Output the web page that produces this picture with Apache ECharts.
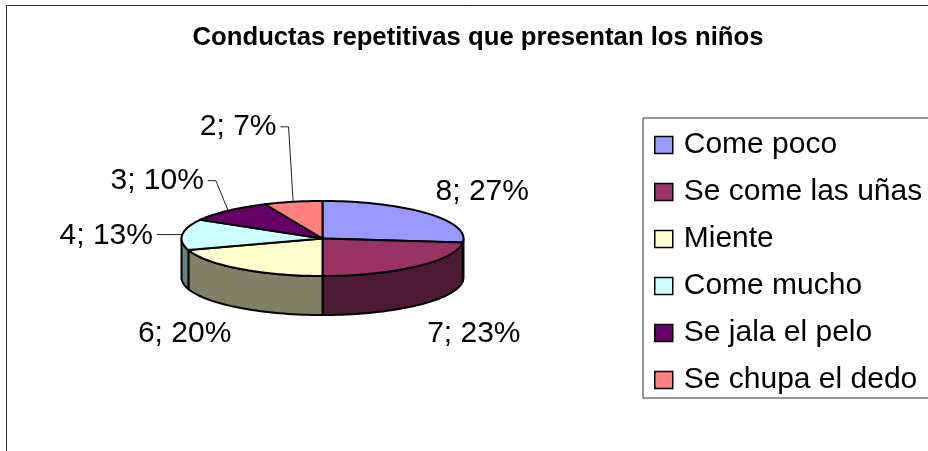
<!DOCTYPE html>
<html><head><meta charset="utf-8">
<style>html,body{margin:0;padding:0;background:#fff;overflow:hidden}#c{width:928px;height:451px}</style>
<script src="https://cdn.jsdelivr.net/npm/echarts@6/dist/echarts.min.js"></script>
</head><body><div id="c"></div>
<script>
const chartTitle = 'Conductas repetitivas que presentan los niños';
const categories = ['Come poco','Se come las uñas','Miente','Come mucho','Se jala el pelo','Se chupa el dedo'];
const values = [8,7,6,4,3,2];
const topColors = ['#9999FF','#993366','#FFFFCC','#CCFFFF','#660066','#FF8080'];
const wallColors = ['#4D4D80','#4D1A33','#808066','#668080','#330033','#804040'];
// label centre, relative to the rim point at each slice's mid-angle
const labelOffsets = [[55,-22],[57,28],[-55,26],[-76,1],[-71,-30],[-55,-75]];
const leaderFlags = [false,false,false,true,true,true];

const FONT = '"Liberation Sans", Arial, sans-serif';
const LABEL_SIZE = 30;
const CX = 322.5, CY = 238.5, RX = 141, RY = 37.5, DEPTH = 39;
const total = values.reduce((a,b)=>a+b,0);
const rim = (deg,dy=0)=>{const r=deg*Math.PI/180;return [CX+RX*Math.sin(r),CY-RY*Math.cos(r)+dy];};
const arcPts = (a,b,dy=0)=>{const p=[];const n=Math.max(2,Math.ceil((b-a)/2));for(let i=0;i<=n;i++)p.push(rim(a+(b-a)*i/n,dy));return p;};
const edge = {stroke:'#000',lineWidth:2,lineJoin:'round'};
const measure = document.createElement('canvas').getContext('2d');
function textWidth(t){measure.font=LABEL_SIZE+'px '+FONT;return measure.measureText(t).width;}

function sliceItem(i){
  return function(params,api){
    const v = api.value(0);
    const before = values.slice(0,i).reduce((a,b)=>a+b,0);
    const a0 = before/total*360, a1 = (before+v)/total*360, mid=(a0+a1)/2;
    const children = [];
    const w0 = Math.max(a0,90), w1 = Math.min(a1,270);
    if (w1>w0){
      const pts = arcPts(w0,w1).concat(arcPts(w0,w1,DEPTH).reverse());
      children.push({type:'polygon',z2:1,shape:{points:pts},style:Object.assign({fill:wallColors[i]},edge)});
    }
    children.push({type:'polygon',z2:2,shape:{points:[[CX,CY]].concat(arcPts(a0,a1))},style:Object.assign({fill:topColors[i]},edge)});
    const m = rim(mid), off = labelOffsets[i];
    const front = mid>90 && mid<270;
    const base = front ? rim(mid,DEPTH) : m;
    const lx = base[0]+off[0], ly = base[1]+off[1];
    const txt = v+'; '+Math.round(v/total*100)+'%';
    children.push({type:'text',z2:5,style:{x:lx,y:ly,text:txt,fill:'#000',font:LABEL_SIZE+'px '+FONT,textAlign:'center',textVerticalAlign:'middle'}});
    if (leaderFlags[i]){
      const tx = lx+textWidth(txt)/2+4;
      const pts = i===3 ? [[tx,m[1]],m] : [[tx,ly],[tx+8,ly],m];
      children.push({type:'polyline',z2:4,shape:{points:pts},style:{stroke:'#222',lineWidth:1,fill:null}});
    }
    return {type:'group',children};
  };
}

const chart = echarts.init(document.getElementById('c'),null,{renderer:'canvas'});
chart.setOption({
  animation:false,
  backgroundColor:'#fff',
  title:{text:chartTitle,left:473,top:20,textAlign:'center',textStyle:{fontFamily:FONT,fontSize:25.7,fontWeight:'bold',color:'#000'}},
  legend:{
    orient:'vertical',left:643,top:118,icon:'rect',selectedMode:false,
    data:categories,itemWidth:18,itemHeight:17,itemGap:17,
    padding:[12,30,3,11],backgroundColor:'#fff',borderColor:'#333',borderWidth:1,
    itemStyle:{borderColor:'#000',borderWidth:1.5},
    textStyle:{fontFamily:FONT,fontSize:30,color:'#000',lineHeight:30,padding:[0,0,0,6]}
  },
  graphic:[{type:'rect',silent:true,z:-1,shape:{x:6.5,y:5.5,width:1000,height:1000},style:{fill:'none',stroke:'#333',lineWidth:1}}],
  series:categories.map((name,i)=>({
    name,type:'custom',coordinateSystem:'none',silent:true,
    itemStyle:{color:topColors[i]},
    data:[[values[i]]],
    renderItem:sliceItem(i)
  }))
});
</script></body></html>
